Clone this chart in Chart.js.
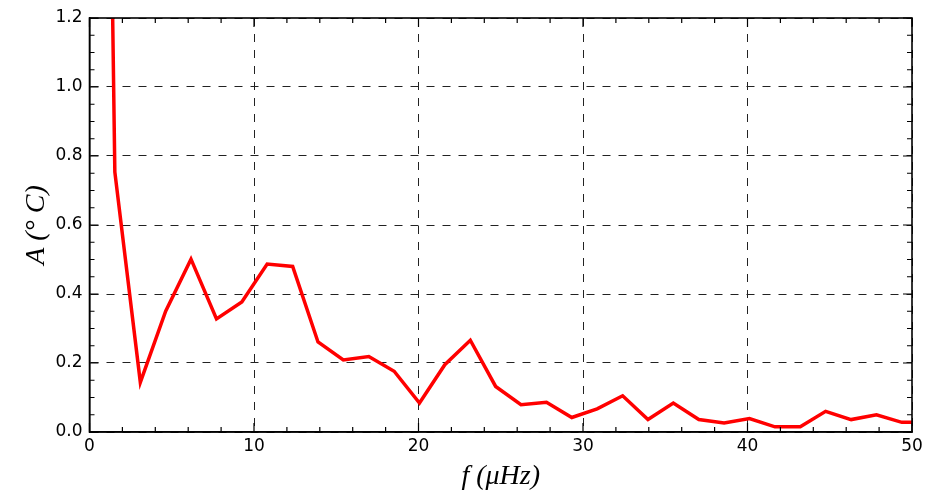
<!DOCTYPE html>
<html>
<head>
<meta charset="utf-8">
<script src="https://cdn.jsdelivr.net/npm/chart.js@4.4.1/dist/chart.umd.min.js"></script>
<style>
  html, body { margin: 0; padding: 0; background: #fff; }
  #wrap { width: 948px; height: 493px; }
</style>
</head>
<body>
<div id="wrap"><canvas id="spectre"></canvas></div>
<script>
// frequence en microHz, amplitude en degres C
const frequences = [0, 1.54, 3.09, 4.63, 6.17, 7.72, 9.26, 10.80, 12.35, 13.89, 15.43, 16.98,
    18.52, 20.06, 21.60, 23.15, 24.69, 26.23, 27.78, 29.32, 30.86, 32.41, 33.95, 35.49,
    37.04, 38.58, 40.12, 41.67, 43.21, 44.75, 46.30, 47.84, 49.38, 50.93];
const amplitudes = [6.0, 0.754, 0.144, 0.350, 0.501, 0.328, 0.377, 0.487, 0.480, 0.261, 0.209, 0.219,
    0.176, 0.084, 0.195, 0.266, 0.132, 0.079, 0.086, 0.042, 0.067, 0.105, 0.036, 0.084,
    0.036, 0.026, 0.039, 0.015, 0.015, 0.060, 0.036, 0.050, 0.028, 0.029];
const xTicks = [0, 10, 20, 30, 40, 50];
const yTicks = [0, 0.2, 0.4, 0.6, 0.8, 1.0, 1.2];

Chart.defaults.font.family = "DejaVu Sans";
Chart.defaults.font.size = 17;
Chart.defaults.color = "#000";

// ticks vers l'interieur sur les 4 cotes + cadre, comme matplotlib
const cadre = {
    id: "cadre",
    afterDraw(chart) {
        const { ctx, chartArea: a, scales } = chart;
        const sx = scales.x, sy = scales.y;
        ctx.save();
        ctx.strokeStyle = "#000";
        ctx.lineWidth = 1.2;
        ctx.beginPath();
        for (let v = 0; v <= 50; v += 2) {
            const px = sx.getPixelForValue(v);
            const len = v % 10 === 0 ? 9 : 5;
            ctx.moveTo(px, a.bottom); ctx.lineTo(px, a.bottom - len);
            ctx.moveTo(px, a.top); ctx.lineTo(px, a.top + len);
        }
        for (let i = 0; i <= 24; i++) {
            const py = sy.getPixelForValue(i * 0.05);
            const len = i % 4 === 0 ? 9 : 5;
            ctx.moveTo(a.left, py); ctx.lineTo(a.left + len, py);
            ctx.moveTo(a.right, py); ctx.lineTo(a.right - len, py);
        }
        ctx.stroke();
        ctx.lineWidth = 1.6;
        ctx.strokeRect(a.left, a.top, a.right - a.left, a.bottom - a.top);
        ctx.restore();
    }
};

const ctx = document.getElementById("spectre").getContext("2d");
new Chart(ctx, {
    type: "line",
    data: {
        datasets: [{
            data: frequences.map((f, i) => ({ x: f, y: amplitudes[i] })),
            borderColor: "#ff0000",
            borderWidth: 3.5,
            pointRadius: 0,
            tension: 0,
            fill: false
        }]
    },
    options: {
        responsive: true,
        maintainAspectRatio: false,
        animation: false,
        events: [],
        layout: { padding: { top: 18, right: 36, left: 0, bottom: 0 } },
        plugins: { legend: { display: false }, tooltip: { enabled: false } },
        scales: {
            x: {
                type: "linear",
                min: 0, max: 50,
                afterBuildTicks: s => { s.ticks = xTicks.map(v => ({ value: v })); },
                afterFit: s => { s.height = 61; },
                ticks: { padding: 4, maxRotation: 0, callback: v => String(v) },
                grid: { color: "#222", lineWidth: 1, drawTicks: false },
                border: { display: true, color: "#000", width: 1.5, dash: [8, 8] },
                title: {
                    display: true,
                    text: "f (μHz)",
                    font: { family: "Liberation Serif", style: "italic", size: 28 },
                    padding: { top: 6, bottom: 0 }
                }
            },
            y: {
                min: 0, max: 1.2,
                afterBuildTicks: s => { s.ticks = yTicks.map(v => ({ value: v })); },
                afterFit: s => { s.width = 89.5; },
                ticks: { padding: 7, callback: v => v.toFixed(1) },
                grid: { color: "#222", lineWidth: 1, drawTicks: false },
                border: { display: true, color: "#000", width: 1.5, dash: [8, 8] },
                title: {
                    display: true,
                    text: "A (° C)",
                    font: { family: "Liberation Serif", style: "italic", size: 28 },
                    padding: { top: 20, bottom: 0 }
                }
            }
        }
    },
    plugins: [cadre]
});
</script>
</body>
</html>
